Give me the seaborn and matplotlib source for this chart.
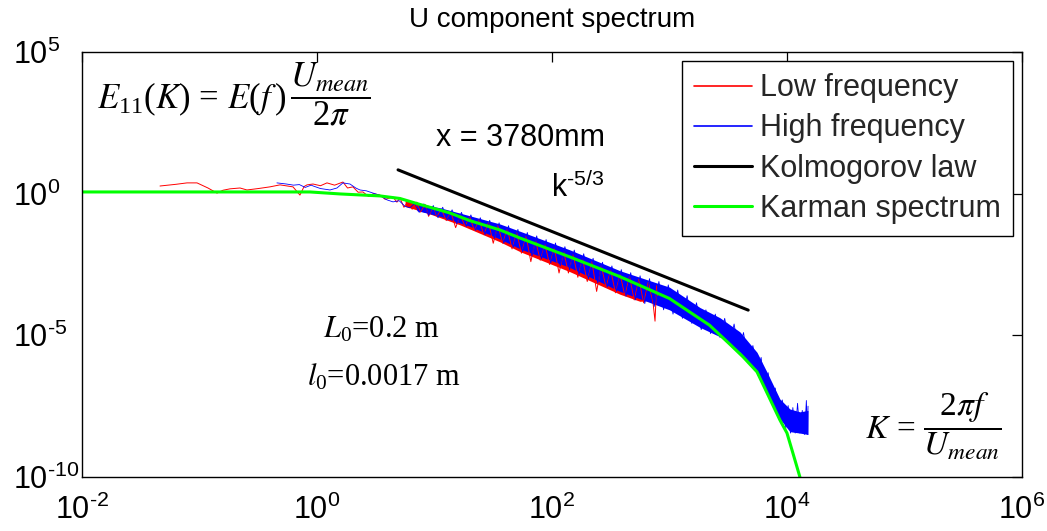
import numpy as np
import matplotlib
matplotlib.use("Agg")
import matplotlib.pyplot as plt
from matplotlib.ticker import FuncFormatter
import seaborn as sns

# ---------------- data (log10 values) ----------------
# Low frequency (red) measured spectrum: log10(K), log10(E11)
low_lk = [-1.336, -1.2, -1.106, -1.021, -0.928, -0.851, -0.80, -0.74, -0.655, -0.596, -0.5, -0.40,
          -0.315, -0.204, -0.145, -0.11, -0.085, -0.034, 0.03, 0.085, 0.15, 0.221, 0.26, 0.306, 0.35,
          0.391, 0.44, 0.48, 0.536, 0.58, 0.647, 0.68, 0.706,
          0.74, 0.78, 0.81, 0.85, 0.88, 0.92, 0.95, 0.99, 1.02, 1.06, 1.1, 1.14, 1.18, 1.22, 1.26, 1.3,
          1.34, 1.38, 1.42, 1.46, 1.5, 1.54, 1.58, 1.62, 1.66, 1.7, 1.74, 1.78, 1.82, 1.86, 1.9, 1.94,
          1.98, 2.02, 2.06, 2.1, 2.14, 2.18, 2.22, 2.26, 2.3, 2.34, 2.38, 2.42, 2.46, 2.5, 2.54, 2.58,
          2.62, 2.66, 2.7, 2.74, 2.78, 2.82, 2.86, 2.877, 2.89, 2.9]
low_lE = [0.27, 0.33, 0.38, 0.38, 0.20, 0.02, 0.12, 0.17, 0.20, 0.13, 0.18, 0.24,
          0.31, 0.24, -0.05, 0.25, 0.31, 0.34, 0.28, 0.38, 0.30, 0.41, 0.2, 0.24, 0.05,
          0.06, -0.1, 0.0, -0.05, -0.2, -0.12, -0.3, -0.15,
          -0.48, -0.25, -0.55, -0.3, -0.65, -0.38, -0.8, -0.45, -0.8, -0.55, -0.95, -0.65, -1.2, -0.75, -1.15, -0.82,
          -1.3, -0.92, -1.45, -1.02, -1.75, -1.12, -1.75, -1.25, -1.95, -1.38, -2.1, -1.5, -2.4, -1.65, -2.35, -1.8,
          -2.5, -1.92, -2.8, -2.05, -2.8, -2.15, -2.95, -2.3, -3.1, -2.4, -3.45, -2.55, -3.3, -2.7, -3.5, -2.85,
          -3.6, -2.93, -3.75, -3.02, -3.85, -3.12, -3.85, -4.5, -3.25, -3.6]
# dense core of the red noise band
low_band_lk = [0.75, 0.936, 1.217, 1.557, 1.73, 2.15, 2.579, 2.749, 2.89]
low_band_hi = [-0.25, -0.4, -0.75, -1.15, -1.45, -2.1, -2.87, -3.1, -3.3]
low_band_lo = [-0.45, -0.68, -1.1, -1.7, -2.05, -2.75, -3.55, -3.8, -3.75]

# High frequency (blue) measured spectrum
high_lk = [-0.341, -0.3, -0.26, -0.2, -0.15, -0.1, -0.05, -0.032, 0.03, 0.111, 0.17, 0.221, 0.281, 0.33,
           0.366, 0.42, 0.477, 0.53, 0.596, 0.647, 0.7, 0.75, 0.791, 0.83,
           0.87, 0.91, 0.95, 0.99, 1.03, 1.07, 1.11, 1.15, 1.19, 1.23, 1.27, 1.31, 1.35, 1.39, 1.43, 1.47,
           1.51, 1.55, 1.59, 1.63, 1.67, 1.71, 1.75, 1.79, 1.83, 1.87, 1.91, 1.95, 1.99, 2.03, 2.07, 2.11,
           2.15, 2.19, 2.23, 2.27, 2.31, 2.35, 2.39, 2.43, 2.47, 2.51, 2.55, 2.59, 2.63, 2.67, 2.71, 2.75,
           2.79, 2.83, 2.87, 2.91, 2.95, 2.99, 3.03, 3.07, 3.11, 3.15, 3.19, 3.23, 3.27, 3.31, 3.35, 3.39,
           3.43, 3.47, 3.51, 3.55, 3.59, 3.63, 3.67, 3.71, 3.75, 3.78, 3.81, 3.84, 3.87, 3.9, 3.93, 3.96,
           3.99, 4.01, 4.03, 4.05, 4.07, 4.09, 4.11, 4.13, 4.15, 4.165, 4.175, 4.179]
high_lE = [0.38, 0.36, 0.34, 0.30, 0.32, 0.22, 0.3, 0.27, 0.18, 0.13, 0.2, 0.38, 0.34, 0.2,
           0.13, 0.1, 0.02, -0.05, -0.22, -0.29, -0.25, -0.45, -0.5, -0.35,
           -0.66, -0.36, -0.76, -0.42, -0.85, -0.48, -0.93, -0.57, -1.06, -0.66, -1.16, -0.75, -1.3, -0.85,
           -1.45, -0.94, -1.58, -1.03, -1.75, -1.13, -1.9, -1.26, -2.05, -1.37, -2.2, -1.49, -2.3, -1.62,
           -2.45, -1.74, -2.55, -1.87, -2.68, -1.99, -2.85, -2.12, -3.0, -2.28, -3.15, -2.42, -3.3, -2.55,
           -3.45, -2.68, -3.62, -2.79, -3.75, -2.9, -3.88, -3.0, -3.98, -3.1, -4.1, -3.22, -4.25, -3.4,
           -4.4, -3.6, -4.58, -3.85, -4.8, -4.1, -4.94, -4.25, -5.08, -4.4, -5.33, -4.6, -5.6, -4.9,
           -5.98, -5.36, -6.4, -5.78, -6.9, -6.32, -7.4, -6.86, -7.95, -7.28, -8.28, -7.48, -8.45, -7.55,
           -8.45, -7.4, -8.45, -7.65, -8.5, -7.3, -8.5, -7.5]
high_band_lk = [0.85, 1.05, 1.30, 1.557, 1.73, 2.15, 2.579, 3.0, 3.26, 3.43, 3.6, 3.745, 3.83, 3.94,
                4.025, 4.11, 4.179]
high_band_hi = [-0.35, -0.5, -0.78, -1.07, -1.33, -1.98, -2.72, -3.3, -4.02, -4.38, -4.88, -5.6, -6.3,
                -7.25, -7.6, -7.7, -7.65]
high_band_lo = [-0.6, -0.8, -1.15, -1.6, -1.95, -2.6, -3.45, -4.1, -4.72, -5.05, -5.6, -6.3, -7.0,
                -7.95, -8.4, -8.45, -8.5]

# Kolmogorov k^-5/3 reference line
kolmo_lk = [0.69, 3.67]
kolmo_lE = [0.84, -4.11]

# Karman model spectrum
karman_lk = [-2.0, -0.06, 0.196, 0.536, 0.706, 0.876, 1.13, 1.30, 1.557, 1.73, 2.15, 2.579, 3.0,
             3.26, 3.34, 3.51, 3.626, 3.745, 3.83, 3.94, 4.0, 4.05, 4.11]
karman_lE = [0.06, 0.06, -0.01, -0.08, -0.17, -0.38, -0.68, -0.95, -1.28, -1.57, -2.23, -2.93, -3.7,
             -4.42, -4.64, -5.3, -5.76, -6.29, -7.03, -7.99, -8.45, -9.15, -10.0]

series_labels = ["Low frequency", "High frequency", "Kolmogorov law", "Karman spectrum"]
x_ticks = [1e-2, 1e0, 1e2, 1e4, 1e6]
y_ticks = [1e-10, 1e-5, 1e0, 1e5]

# ---------------- style ----------------
sns.set_theme(style="white")
plt.rcParams["font.family"] = ["Liberation Sans", "DejaVu Sans"]
plt.rcParams["mathtext.fontset"] = "custom"
plt.rcParams["mathtext.rm"] = "Liberation Sans"
plt.rcParams["mathtext.it"] = "Liberation Sans:italic"
plt.rcParams["mathtext.default"] = "regular"
plt.rcParams["axes.unicode_minus"] = False

fig = plt.figure(figsize=(10.47, 5.31), dpi=100)
ax = fig.add_axes([0.0783, 0.1017, 0.8978, 0.8004])
ax.set_xscale("log")
ax.set_yscale("log")

def p10(a):
    return 10.0 ** np.asarray(a, dtype=float)

RED, BLUE, GREEN = "#ff0000", "#0000ff", "#00ff00"

ax.fill_between(p10(low_band_lk), p10(low_band_lo), p10(low_band_hi), color=RED, lw=0)
sns.lineplot(x=p10(low_lk), y=p10(low_lE), color=RED, linewidth=0.7, sort=False,
             estimator=None, ax=ax)
h_low = ax.lines[-1]
ax.fill_between(p10(high_band_lk), p10(high_band_lo), p10(high_band_hi), color=BLUE, lw=0)
sns.lineplot(x=p10(high_lk), y=p10(high_lE), color=BLUE, linewidth=0.6, sort=False,
             estimator=None, ax=ax)
h_high = ax.lines[-1]
sns.lineplot(x=p10(kolmo_lk), y=p10(kolmo_lE), color="black", linewidth=2.2, sort=False,
             estimator=None, ax=ax)
h_kol = ax.lines[-1]
sns.lineplot(x=p10(karman_lk), y=p10(karman_lE), color=GREEN, linewidth=2.2, sort=False,
             estimator=None, ax=ax)
h_kar = ax.lines[-1]

ax.set_xlim(1e-2, 1e6)
ax.set_ylim(1e-10, 1e5)
ax.set_xticks(x_ticks)
ax.set_yticks(y_ticks)
ax.minorticks_off()

def pow_label(v, pos):
    e = int(round(np.log10(v)))
    return r"$10^{\text{%d}}$" % e

ax.xaxis.set_major_formatter(FuncFormatter(pow_label))
ax.yaxis.set_major_formatter(FuncFormatter(pow_label))
ax.tick_params(which="both", direction="in", length=7, width=0.9, top=True, right=True,
               labelsize=22, colors="black")
ax.tick_params(axis="x", pad=13)
ax.tick_params(axis="y", pad=50)
plt.setp(ax.get_yticklabels(), ha="left")
for s in ax.spines.values():
    s.set_color("black")
    s.set_linewidth(1.0)
ax.grid(False)

ax.set_title("U component spectrum", fontsize=20, pad=18, color="black")

leg = ax.legend([h_low, h_high, h_kol, h_kar], series_labels, loc="upper right",
                fontsize=22, frameon=True, fancybox=False, edgecolor="black", framealpha=1,
                borderpad=0.4, labelspacing=0.33, handlelength=1.9, handletextpad=0.25,
                borderaxespad=0.3)
leg.get_frame().set_linewidth(1.0)
leg.legend_handles[0].set_linewidth(1.2)
leg.legend_handles[1].set_linewidth(1.2)
leg.legend_handles[2].set_linewidth(2.2)
leg.legend_handles[3].set_linewidth(2.2)

# annotations
serif = "Liberation Serif"
ax.text(0.466, 0.798, "x = 3780mm", transform=ax.transAxes, fontsize=22,
        ha="center", va="center", color="black")
ax.text(0.527, 0.68, r"k$^{\text{-5/3}}$", transform=ax.transAxes, fontsize=22,
        ha="center", va="center", color="black")
ax.text(0.016, 0.90,
        r"$\mathit{E}_{11}(\mathit{K})\,=\,\mathit{E}(\mathit{f}\,)\,\dfrac{\mathit{U}_{\mathit{mean}}}{2\mathit{\pi}}$",
        transform=ax.transAxes, fontsize=25, ha="left", va="center", color="black",
        family=serif, math_fontfamily="stix")
ax.text(0.319, 0.346, r"$\mathit{L}_0$=0.2 m", transform=ax.transAxes, fontsize=22,
        ha="center", va="center", color="black", family=serif, math_fontfamily="stix")
ax.text(0.321, 0.235, r"$\mathit{l}_0$=0.0017 m", transform=ax.transAxes, fontsize=22,
        ha="center", va="center", color="black", family=serif, math_fontfamily="stix")
ax.text(0.906, 0.12, r"$\mathit{K}\,=\,\dfrac{2\mathit{\pi f}}{\mathit{U}_{\mathit{mean}}}$",
        transform=ax.transAxes, fontsize=24, ha="center", va="center", color="black",
        family=serif, math_fontfamily="stix")

fig.savefig("out.png", dpi=100)
